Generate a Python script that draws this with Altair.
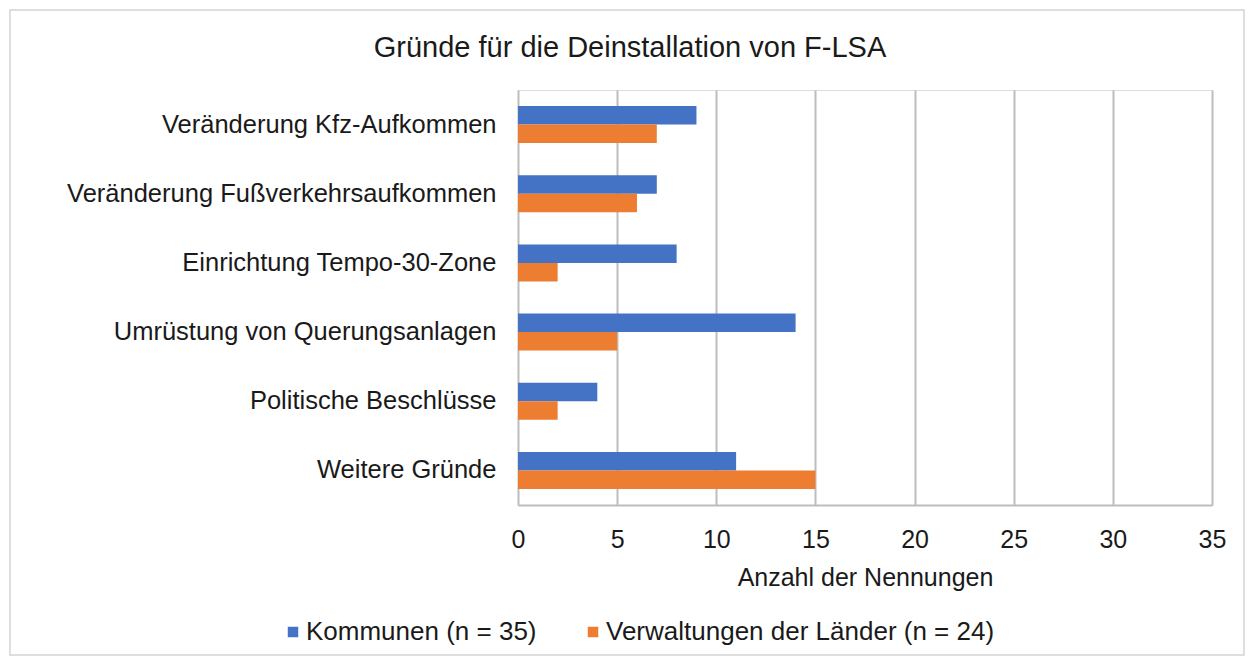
import altair as alt
import pandas as pd

title_text = "Gründe für die Deinstallation von F-LSA"
categories = [
    "Veränderung Kfz-Aufkommen",
    "Veränderung Fußverkehrsaufkommen",
    "Einrichtung Tempo-30-Zone",
    "Umrüstung von Querungsanlagen",
    "Politische Beschlüsse",
    "Weitere Gründe",
]
kommunen = [9, 7, 8, 14, 4, 11]
laender = [7, 6, 2, 5, 2, 15]
series = ["Kommunen (n = 35)", "Verwaltungen der Länder (n = 24)"]
colors = ["#4472C4", "#ED7D31"]
x_ticks = [0, 5, 10, 15, 20, 25, 30, 35]

rows = []
for c, k, l in zip(categories, kommunen, laender):
    rows.append({"Grund": c, "Gruppe": series[0], "Wert": k})
    rows.append({"Grund": c, "Gruppe": series[1], "Wert": l})
df = pd.DataFrame(rows)

FONT = "Liberation Sans"
TXT = "#1a1a1a"
W, H = 694, 415

bars = alt.Chart(df).mark_bar().encode(
    y=alt.Y("Grund:N", sort=categories, title=None,
            scale=alt.Scale(paddingInner=0.466, paddingOuter=0.233),
            axis=alt.Axis(ticks=False, domain=False, labelFontSize=25.5,
                          labelPadding=22, labelColor=TXT, labelFont=FONT,
                          labelLimit=600)),
    yOffset=alt.YOffset("Gruppe:N", sort=series,
                        scale=alt.Scale(paddingInner=0, paddingOuter=0)),
    x=alt.X("Wert:Q", title="Anzahl  der Nennungen",
            scale=alt.Scale(domain=[0, 35], nice=False),
            axis=alt.Axis(values=x_ticks, grid=True, gridColor="#bdbdbd", gridWidth=2,
                          domainColor="#bdbdbd", domainWidth=2, ticks=False,
                          labelFlush=False,
                          labelFontSize=25, labelPadding=22, labelColor=TXT,
                          labelFont=FONT, titleFont=FONT, titleFontSize=25,
                          titleFontWeight="normal", titleColor=TXT,
                          titlePadding=13)),
    color=alt.Color("Gruppe:N", sort=series,
                    scale=alt.Scale(domain=series, range=colors),
                    legend=alt.Legend(title=None, orient="none", direction="horizontal",
                                      legendX=-238, legendY=529,
                                      symbolType="square", symbolSize=110,
                                      symbolStrokeWidth=0,
                                      labelFontSize=26, labelFont=FONT,
                                      labelColor=TXT, columnPadding=43,
                                      labelOffset=0, labelLimit=600)),
)

border = alt.Chart(pd.DataFrame({"a": [0]})).mark_rect(
    fill=None, stroke="#d4d4d4", strokeWidth=1.5, clip=False
).encode(
    x=alt.value(-508), x2=alt.value(726),
    y=alt.value(-80), y2=alt.value(565),
)

title = alt.Chart(pd.DataFrame({"t": [title_text]})).mark_text(
    font=FONT, fontSize=29, color=TXT, align="center", baseline="middle", clip=False
).encode(
    text="t:N", x=alt.value(112), y=alt.value(-42),
)

chart = alt.layer(border, bars, title).properties(
    width=W, height=H,
    autosize=alt.AutoSizeParams(type="none"),
    padding={"left": 510, "top": 82, "right": 34, "bottom": 151},
).configure_view(stroke=None).configure(background="white")

chart.save("out.html", embed_options={"renderer": "svg", "actions": False})
